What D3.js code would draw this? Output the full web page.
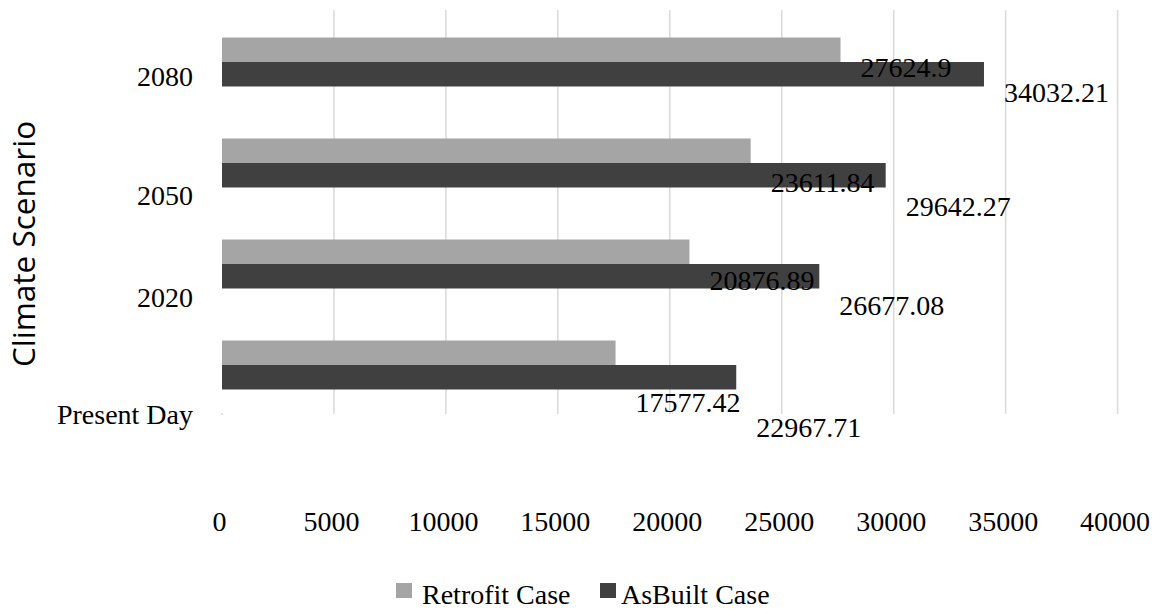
<!DOCTYPE html>
<html>
<head>
<meta charset="utf-8">
<script src="https://cdn.jsdelivr.net/npm/d3@7"></script>
<style>
  html, body { margin: 0; padding: 0; background: #fff; }
  svg { display: block; }
  text { font-family: "Liberation Serif", "Times New Roman", serif; fill: #000; }
</style>
</head>
<body>
<svg id="chart" width="1164" height="610"></svg>
<script>
// ---- data ----
const categories = ["2080", "2050", "2020", "Present Day"];
const retrofitValues = [27624.9, 23611.84, 20876.89, 17577.42];
const asBuiltValues = [34032.21, 29642.27, 26677.08, 22967.71];
const seriesNames = ["Retrofit Case", "AsBuilt Case"];
const xTicks = [0, 5000, 10000, 15000, 20000, 25000, 30000, 35000, 40000];
const yTitle = "Climate Scenario";

// ---- layout / style ----
const colors = ["#a5a5a5", "#404040"];
const plot = { left: 222, right: 1117.6, top: 10, bottom: 414 };
const fontSize = 28;
// vertical shift of texts relative to the bar group (as rendered in reference)
const catLabelShift = [24, 41.5, 42.5, 58.5];
const dataLabelShift = [27.5, 40.8, 38.3, 59.5];

const svg = d3.select("#chart");

const x = d3.scaleLinear().domain([0, 40000]).range([plot.left, plot.right]);
const y = d3.scaleBand().domain(categories).range([11.5, 415.5])
  .paddingInner(0.515).paddingOuter(0.2575);
const ySub = d3.scaleBand().domain(seriesNames).range([0, y.bandwidth()]);

// gridlines
svg.append("g").selectAll("line")
  .data(xTicks.filter(d => d > 0))
  .join("line")
  .attr("x1", d => x(d)).attr("x2", d => x(d))
  .attr("y1", plot.top).attr("y2", plot.bottom)
  .attr("stroke", "#d9d9d9").attr("stroke-width", 1.5);

// bars
const rows = categories.map((c, i) => ({ cat: c, i, vals: [retrofitValues[i], asBuiltValues[i]] }));
const groups = svg.append("g").selectAll("g")
  .data(rows).join("g")
  .attr("transform", d => `translate(0,${y(d.cat)})`);

groups.selectAll("rect")
  .data(d => d.vals.map((v, k) => ({ v, k, name: seriesNames[k] })))
  .join("rect")
  .attr("x", x(0))
  .attr("y", d => ySub(d.name))
  .attr("width", d => x(d.v) - x(0))
  .attr("height", ySub.bandwidth())
  .attr("fill", d => colors[d.k]);

// data labels
groups.selectAll("text")
  .data(d => d.vals.map((v, k) => ({ v, k, name: seriesNames[k], i: d.i })))
  .join("text")
  .attr("x", d => x(d.v) + 20)
  .attr("y", d => ySub(d.name) + ySub.bandwidth() / 2 + dataLabelShift[d.i])
  .attr("font-size", fontSize)
  .text(d => String(d.v));

// category labels
svg.append("g").selectAll("text")
  .data(categories).join("text")
  .attr("x", 193)
  .attr("y", (d, i) => y(d) + y.bandwidth() / 2 + catLabelShift[i])
  .attr("text-anchor", "end")
  .attr("font-size", fontSize)
  .text(d => d);

// x tick labels
svg.append("g").selectAll("text")
  .data(xTicks).join("text")
  .attr("x", d => x(d) - 2.5)
  .attr("y", 531)
  .attr("text-anchor", "middle")
  .attr("font-size", fontSize)
  .text(d => d);

// small tick mark at origin bottom
svg.append("line")
  .attr("x1", x(0)).attr("x2", x(0))
  .attr("y1", plot.bottom - 1).attr("y2", plot.bottom + 1)
  .attr("stroke", "#d9d9d9").attr("stroke-width", 1.5);

// y title
svg.append("text")
  .attr("transform", `translate(35,244) rotate(-90)`)
  .attr("text-anchor", "middle")
  .style("font-family", "'Open Sans', 'Noto Sans', sans-serif")
  .attr("font-size", 31.5)
  .text(yTitle);

// legend
const legendItems = [
  { name: seriesNames[0], color: colors[0], sx: 396, tx: 422 },
  { name: seriesNames[1], color: colors[1], sx: 600, tx: 621 }
];
const lg = svg.append("g");
lg.selectAll("rect").data(legendItems).join("rect")
  .attr("x", d => d.sx).attr("y", 583)
  .attr("width", 16).attr("height", 15)
  .attr("fill", d => d.color);
lg.selectAll("text").data(legendItems).join("text")
  .attr("x", d => d.tx).attr("y", 604)
  .attr("font-size", fontSize)
  .text(d => d.name);
</script>
</body>
</html>
